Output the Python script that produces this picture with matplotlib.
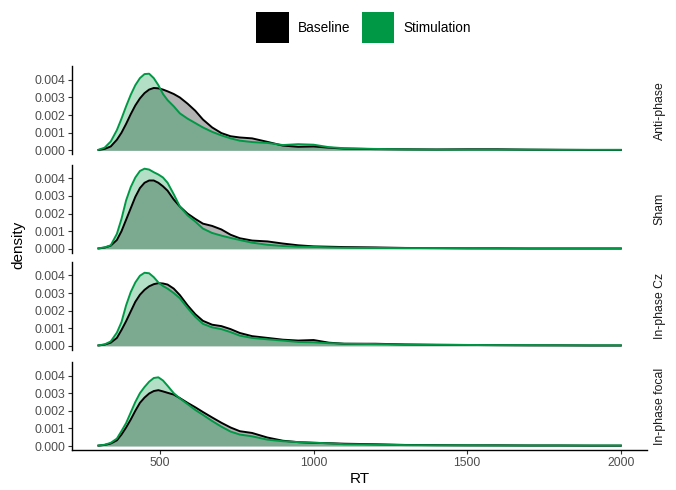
import numpy as np
import matplotlib
matplotlib.use('Agg')
import matplotlib.pyplot as plt
from matplotlib.patches import Patch
from matplotlib.ticker import FormatStrFormatter

plt.rcParams['font.family'] = ['Liberation Sans', 'DejaVu Sans']

# RT grid (ms) and densities (units of 1e-3)
rt = [300, 320, 340, 360, 375, 390, 405, 420, 435, 450, 465, 480, 495, 510, 525,
      545, 565, 590, 615, 640, 670, 700, 730, 760, 800, 850, 900, 950, 1000,
      1050, 1100, 1200, 1300, 1400, 1500, 1600, 1700, 1800, 1900, 2000]

conds = ['Anti-phase', 'Sham', 'In-phase Cz', 'In-phase focal']

base_anti = [0.02, 0.08, 0.22, 0.6, 1.0, 1.5, 2.05, 2.55, 2.95, 3.25, 3.45, 3.54, 3.52, 3.45, 3.35,
             3.2, 3.0, 2.65, 2.25, 1.75, 1.3, 0.98, 0.8, 0.73, 0.68, 0.48, 0.27, 0.2, 0.22,
             0.15, 0.1, 0.07, 0.06, 0.05, 0.06, 0.06, 0.04, 0.03, 0.02, 0.02]
stim_anti = [0.03, 0.15, 0.5, 1.15, 1.8, 2.5, 3.15, 3.7, 4.1, 4.33, 4.35, 4.1, 3.7, 3.2, 2.85,
             2.5, 2.1, 1.8, 1.55, 1.3, 1.05, 0.85, 0.68, 0.55, 0.47, 0.42, 0.3, 0.35, 0.32,
             0.18, 0.12, 0.08, 0.05, 0.04, 0.04, 0.04, 0.04, 0.03, 0.03, 0.03]

base_sham = [0.02, 0.07, 0.18, 0.5, 1.0, 1.65, 2.3, 2.95, 3.45, 3.75, 3.88, 3.88, 3.75, 3.55, 3.3,
             2.8, 2.4, 2.0, 1.7, 1.43, 1.3, 1.1, 0.8, 0.6, 0.47, 0.42, 0.3, 0.2, 0.14,
             0.12, 0.1, 0.08, 0.05, 0.04, 0.03, 0.03, 0.02, 0.02, 0.02, 0.02]
stim_sham = [0.03, 0.08, 0.2, 0.85, 1.7, 2.75, 3.5, 4.05, 4.42, 4.55, 4.5, 4.35, 4.22, 4.05, 3.75,
             3.1, 2.4, 1.9, 1.55, 1.15, 0.9, 0.75, 0.62, 0.5, 0.35, 0.23, 0.16, 0.12, 0.11,
             0.08, 0.06, 0.05, 0.04, 0.04, 0.03, 0.02, 0.02, 0.02, 0.02, 0.02]

base_cz = [0.02, 0.07, 0.18, 0.45, 0.9, 1.4, 1.95, 2.5, 2.9, 3.18, 3.38, 3.5, 3.56, 3.54, 3.48,
           3.25, 2.88, 2.3, 1.8, 1.42, 1.2, 1.12, 0.95, 0.73, 0.55, 0.45, 0.35, 0.3, 0.33,
           0.18, 0.12, 0.12, 0.08, 0.06, 0.05, 0.04, 0.03, 0.03, 0.02, 0.02]
stim_cz = [0.03, 0.08, 0.25, 0.75, 1.35, 2.3, 3.05, 3.6, 3.98, 4.15, 4.12, 3.9, 3.6, 3.4, 3.25,
           3.0, 2.7, 2.15, 1.65, 1.25, 1.05, 0.95, 0.78, 0.58, 0.45, 0.37, 0.3, 0.22, 0.2,
           0.15, 0.12, 0.1, 0.07, 0.06, 0.05, 0.04, 0.04, 0.03, 0.03, 0.03]

base_focal = [0.02, 0.06, 0.14, 0.32, 0.65, 1.05, 1.5, 2.0, 2.45, 2.75, 2.98, 3.12, 3.17, 3.1, 3.02,
              2.92, 2.72, 2.45, 2.2, 1.93, 1.62, 1.32, 1.05, 0.84, 0.74, 0.48, 0.3, 0.22, 0.18,
              0.16, 0.13, 0.1, 0.06, 0.05, 0.04, 0.04, 0.03, 0.03, 0.02, 0.02]
stim_focal = [0.03, 0.07, 0.18, 0.42, 0.85, 1.3, 1.9, 2.5, 3.0, 3.35, 3.65, 3.86, 3.9, 3.72, 3.42,
              3.0, 2.7, 2.38, 2.05, 1.77, 1.42, 1.1, 0.82, 0.65, 0.55, 0.36, 0.27, 0.22, 0.19,
              0.15, 0.1, 0.08, 0.05, 0.04, 0.04, 0.03, 0.03, 0.03, 0.03, 0.03]

baseline = [base_anti, base_sham, base_cz, base_focal]
stimulation = [stim_anti, stim_sham, stim_cz, stim_focal]

col_base = 'black'
col_stim = '#009845'

fig = plt.figure(figsize=(6.76, 4.9), dpi=100)
x = np.array(rt)
bottoms = [0.685, 0.484, 0.286, 0.0816]
for i, cond in enumerate(conds):
    ax = fig.add_axes([0.107, bottoms[i], 0.850, 0.18])
    yb = np.array(baseline[i]) * 1e-3
    ys = np.array(stimulation[i]) * 1e-3
    ax.fill_between(x, 0, yb, color=col_base, alpha=0.3, lw=0)
    ax.plot(x, yb, color=col_base, lw=1.4, solid_joinstyle='round')
    ax.fill_between(x, 0, ys, color=col_stim, alpha=0.3, lw=0)
    ax.plot(x, ys, color=col_stim, lw=1.4, solid_joinstyle='round')
    ax.set_xlim(215, 2085)
    ax.set_ylim(-0.000228, 0.00478)
    ax.set_yticks([0, 0.001, 0.002, 0.003, 0.004])
    ax.yaxis.set_major_formatter(FormatStrFormatter('%.3f'))
    for s in ['top', 'right']:
        ax.spines[s].set_visible(False)
    ax.spines['left'].set_linewidth(1.0)
    ax.tick_params(axis='both', length=3, width=0.8, color='#333333',
                   labelcolor='#4D4D4D', labelsize=8.8, pad=2)
    if i < 3:
        ax.spines['bottom'].set_visible(False)
        ax.tick_params(axis='x', bottom=False, labelbottom=False)
    else:
        ax.spines['bottom'].set_linewidth(1.0)
        ax.set_xticks([500, 1000, 1500, 2000])
        ax.set_xlabel('RT', fontsize=11, labelpad=2)
    fig.text(0.976, bottoms[i] + 0.09, cond, rotation=90, ha='center', va='center',
             fontsize=8.8, color='#1A1A1A')

fig.text(0.027, 0.5, 'density', rotation=90, ha='center', va='center', fontsize=11)

handles = [Patch(facecolor=col_base, edgecolor='none', label='Baseline'),
           Patch(facecolor=col_stim, edgecolor='none', label='Stimulation')]
fig.legend(handles=handles, loc='upper center', bbox_to_anchor=(0.538, 1.0), ncol=2,
           frameon=False, fontsize=9.8, handlelength=2.4, handleheight=3.1,
           handletextpad=0.7, columnspacing=0.8)

fig.savefig('out.png', dpi=100)
